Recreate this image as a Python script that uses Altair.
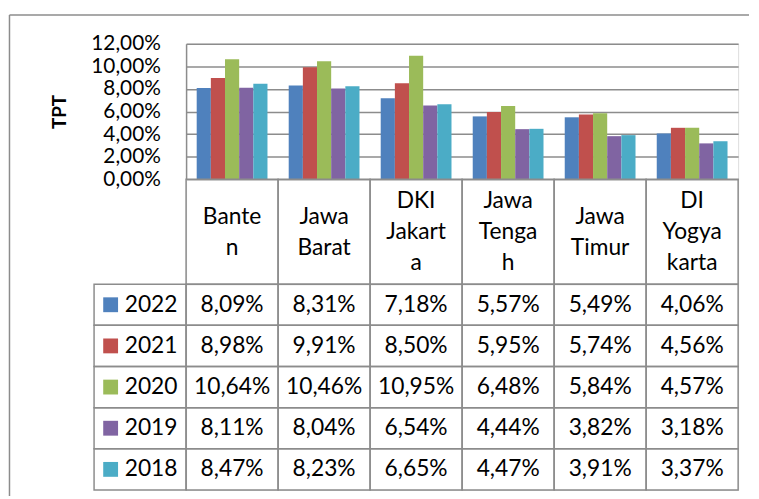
import altair as alt
import pandas as pd

regions = ["Banten", "Jawa Barat", "DKI Jakarta", "Jawa Tengah", "Jawa Timur", "DI Yogyakarta"]
header_labels = ["Bante\nn", "Jawa\nBarat", "DKI\nJakart\na", "Jawa\nTenga\nh", "Jawa\nTimur", "DI\nYogya\nkarta"]
years = ["2022", "2021", "2020", "2019", "2018"]
colors = ["#4F81BD", "#C0504D", "#9BBB59", "#8064A2", "#4BACC6"]
tpt_2022 = [8.09, 8.31, 7.18, 5.57, 5.49, 4.06]
tpt_2021 = [8.98, 9.91, 8.50, 5.95, 5.74, 4.56]
tpt_2020 = [10.64, 10.46, 10.95, 6.48, 5.84, 4.57]
tpt_2019 = [8.11, 8.04, 6.54, 4.44, 3.82, 3.18]
tpt_2018 = [8.47, 8.23, 6.65, 4.47, 3.91, 3.37]
y_ticks = [0, 2, 4, 6, 8, 10, 12]

series = dict(zip(years, [tpt_2022, tpt_2021, tpt_2020, tpt_2019, tpt_2018]))
rows = []
for y in years:
    for r, v in zip(regions, series[y]):
        rows.append({"region": r, "year": y, "value": v,
                     "label": f"{v:.2f}".replace(".", ",") + "%"})
df = pd.DataFrame(rows)

# one record per header line; slot = line index, centred on the middle slot
hdr_rows = []
for r, lab in zip(regions, header_labels):
    parts = lab.split("\n")
    n = len(parts)
    for i, p in enumerate(parts):
        hdr_rows.append({"region": r, "line": p, "slot": i + (3 - n) / 2})
hdr_lines = pd.DataFrame(hdr_rows)

FONT = "Lato"
FS = 23
GRID = "#8C8C8C"
LW = 1.5

W = 558
H_TOP = 137
H_HDR = 106
H_ROWS = 208

x_reg = alt.X("region:N", sort=regions,
              scale=alt.Scale(domain=regions, paddingInner=0, paddingOuter=0), axis=None)

bars = alt.Chart(df).mark_bar().encode(
    x=x_reg,
    xOffset=alt.XOffset("year:N", sort=years,
                        scale=alt.Scale(domain=years, paddingInner=0, paddingOuter=0.75)),
    y=alt.Y("value:Q", scale=alt.Scale(domain=[0, 12], nice=False),
            axis=alt.Axis(values=y_ticks, title="TPT",
                          labelExpr="replace(format(datum.value, '.2f'), '.', ',') + '%'",
                          labelFont=FONT, labelFontSize=21, labelColor="black",
                          labelPadding=26, ticks=False, labelOverlap=False,
                          domainColor=GRID, domainWidth=LW,
                          grid=True, gridColor=GRID, gridWidth=LW,
                          titleFont=FONT, titleFontSize=19, titleFontWeight="bold",
                          titleColor="black", titlePadding=22)),
    color=alt.Color("year:N", scale=alt.Scale(domain=years, range=colors), legend=None),
)

one = pd.DataFrame({"k": [0]})
border_left = alt.Chart(one).mark_rule(color=GRID, strokeWidth=LW).encode(
    x=alt.value(-178.5), y=alt.value(-29), y2=alt.value(457))
border_top = alt.Chart(one).mark_rule(color=GRID, strokeWidth=LW).encode(
    x=alt.value(-178.5), x2=alt.value(569), y=alt.value(-29))

top = alt.layer(bars, border_left, border_top).properties(width=W, height=H_TOP)

hdr = pd.DataFrame({"region": regions})
hdr_cells = alt.Chart(hdr).mark_rect(fillOpacity=0, stroke=GRID, strokeWidth=LW).encode(x=x_reg)
hdr_text = alt.Chart(hdr_lines).mark_text(font=FONT, fontSize=FS, baseline="middle",
                                          color="black").encode(
    x=x_reg,
    y=alt.Y("slot:Q", scale=alt.Scale(domain=[-0.7, 2.67], reverse=True, nice=False, zero=False),
            axis=None),
    text="line:N")
header = alt.layer(hdr_cells, hdr_text).properties(width=W, height=H_HDR)

cols = ["legend"] + regions
x_col = alt.Scale(domain=cols, range=[-93, W], paddingInner=0, paddingOuter=0)
y_row = alt.Y("year:N", sort=years, scale=alt.Scale(domain=years, paddingInner=0, paddingOuter=0), axis=None)

cells = pd.DataFrame([{"col": c, "year": y} for c in cols for y in years])
cell_rects = alt.Chart(cells).mark_rect(fillOpacity=0, stroke=GRID, strokeWidth=LW).encode(
    x=alt.X("col:N", sort=cols, scale=x_col, axis=None), y=y_row)
val_text = alt.Chart(df).mark_text(font=FONT, fontSize=FS, color="black", baseline="middle").encode(
    x=alt.X("region:N", sort=cols, scale=x_col, axis=None), y=y_row, text="label:N")
leg = pd.DataFrame({"col": ["legend"] * len(years), "year": years})
leg_sq = alt.Chart(leg).mark_square(size=225, opacity=1).encode(
    x=alt.X("col:N", sort=cols, scale=x_col, axis=None, bandPosition=0.18), y=y_row,
    color=alt.Color("year:N", scale=alt.Scale(domain=years, range=colors), legend=None))
leg_text = alt.Chart(leg).mark_text(font=FONT, fontSize=FS, color="black", baseline="middle").encode(
    x=alt.X("col:N", sort=cols, scale=x_col, axis=None, bandPosition=0.62), y=y_row, text="year:N")
table = alt.layer(cell_rects, val_text, leg_sq, leg_text).properties(width=W, height=H_ROWS)

chart = alt.vconcat(top, header, table, spacing=0, bounds="flush").properties(
    padding={"left": 0, "top": 2.5, "right": 0, "bottom": 0}
).configure_view(stroke=None).configure(background="white")

chart.save("out.html", embed_options={"renderer": "svg", "actions": False})
